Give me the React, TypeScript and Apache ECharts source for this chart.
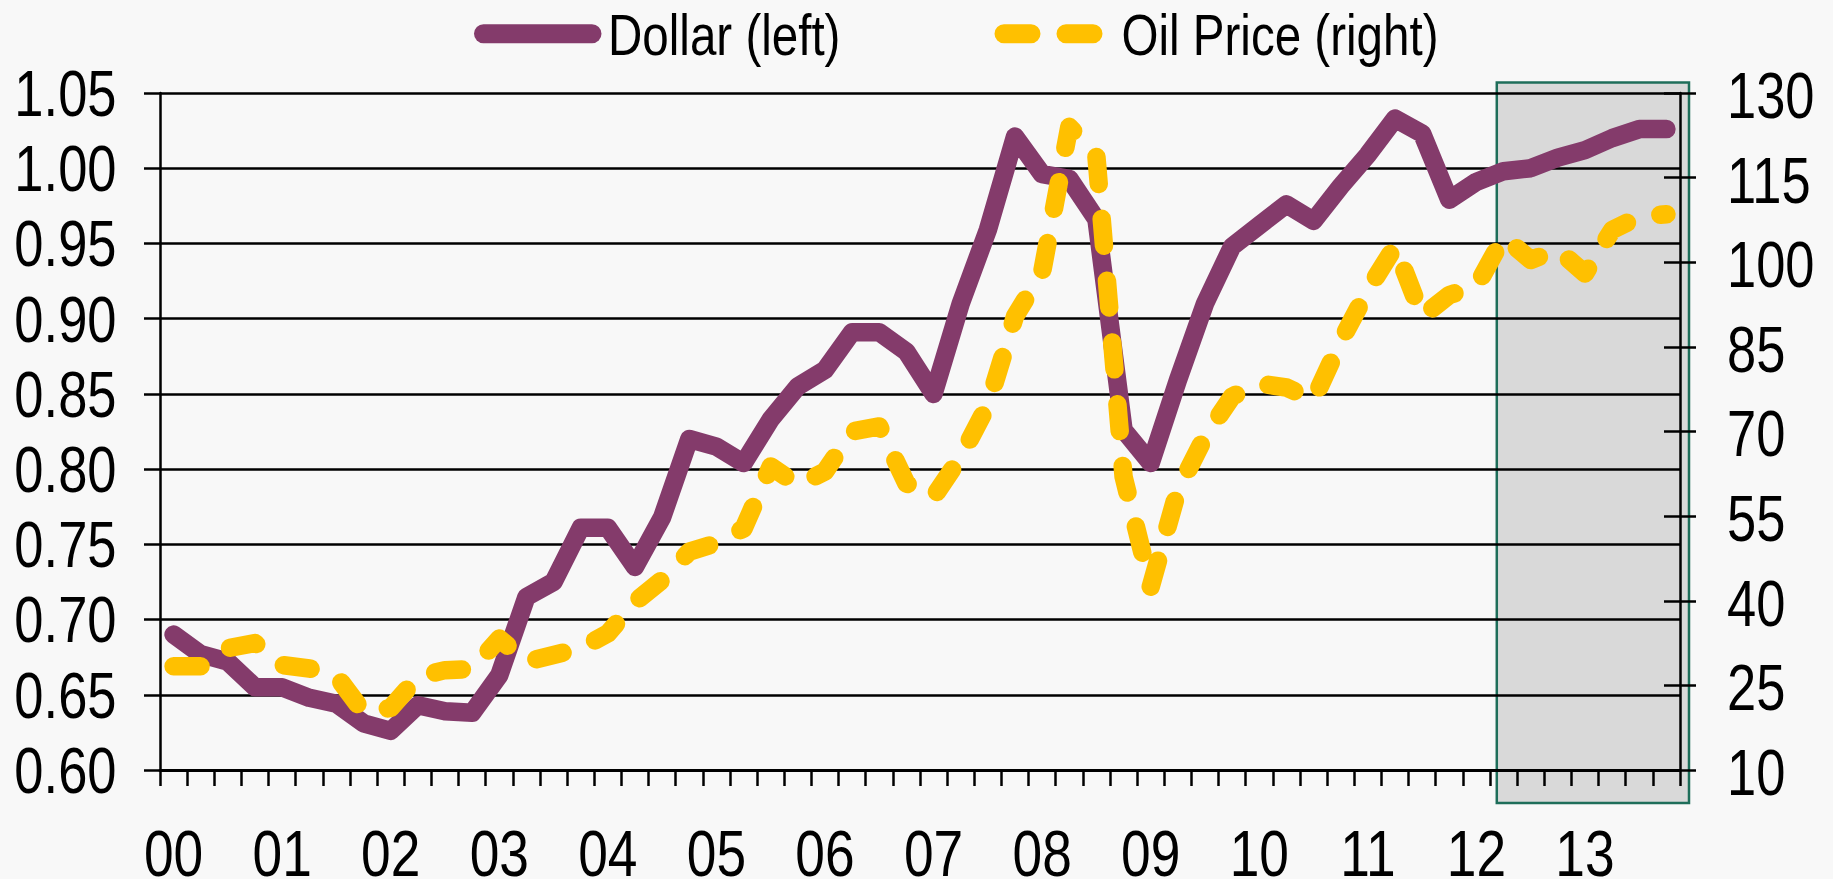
import { useEffect, useRef } from 'react';
import * as echarts from 'echarts';

// ---- data -------------------------------------------------------------
const years = [2000, 2001, 2002, 2003, 2004, 2005, 2006, 2007, 2008, 2009, 2010, 2011, 2012, 2013];
const quarters = ['Q1', 'Q2', 'Q3', 'Q4'];
const categories: string[] = years.flatMap((y) => quarters.map((q) => `${y}${q}`));
const yearLabels = years.map((y) => String(y).slice(2));

// Dollar index (left axis), quarterly 2000Q1 .. 2013Q4
const dollar = [
  0.690, 0.677, 0.672, 0.655, 0.655, 0.648, 0.644, 0.631, 0.626, 0.643,
  0.639, 0.638, 0.663, 0.715, 0.725, 0.761, 0.761, 0.735, 0.768, 0.820,
  0.815, 0.804, 0.833, 0.855, 0.866, 0.891, 0.891, 0.878, 0.850, 0.910,
  0.959, 1.021, 0.996, 0.993, 0.966, 0.826, 0.804, 0.859, 0.910, 0.948,
  0.962, 0.976, 0.965, 0.988, 1.009, 1.033, 1.023, 0.979, 0.991, 0.998,
  1.000, 1.007, 1.012, 1.020, 1.026, 1.026,
];

// Oil price (right axis)
const oil = [
  28.4, 28.4, 31.6, 32.5, 28.6, 28.0, 26.7, 20.2, 21.0, 26.5,
  27.7, 27.9, 33.3, 29.2, 30.4, 31.6, 34.2, 39.8, 43.7, 48.7,
  50.2, 52.8, 63.8, 60.5, 62.9, 70.0, 70.9, 60.8, 58.4, 65.5,
  74.7, 90.4, 98.3, 124.0, 118.7, 62.0, 42.5, 59.6, 69.1, 76.2,
  78.5, 77.8, 75.6, 86.0, 95.1, 102.8, 90.4, 94.2, 95.7, 104.5,
  100.4, 102.2, 98.0, 105.7, 108.1, 108.5,
];

const seriesNames = ['Dollar (left)', 'Oil Price (right)'];
const leftAxis = { min: 0.6, max: 1.05, interval: 0.05 };
const rightAxis = { min: 10, max: 130, interval: 15 };
const leftTicks = [0.6, 0.65, 0.7, 0.75, 0.8, 0.85, 0.9, 0.95, 1.0, 1.05];
const rightTicks = [10, 25, 40, 55, 70, 85, 100, 115, 130];
const shadeFrom = 49; // first shaded quarter (2012Q2)

// ---- styles -----------------------------------------------------------
const FONT = "'Liberation Sans', Arial, Helvetica, sans-serif";
const NARROW = 0.82; // Arial Narrow look: Arial squeezed horizontally
const PURPLE = '#843b6b';
const GOLD = '#ffc000';
const BG = '#f8f8f8';
const DASH = [27, 35];
const LINE_W = 18.5;

function label(text: string, x: number, y: number, align: string, size: number) {
  return {
    type: 'text',
    x,
    y,
    scaleX: NARROW,
    z: 100,
    silent: true,
    style: {
      text,
      x: 0,
      y: 0,
      fill: '#000',
      fontFamily: FONT,
      fontSize: size,
      align,
      verticalAlign: 'middle',
    },
  };
}

export default function App() {
  const ref = useRef<HTMLDivElement>(null);

  useEffect(() => {
    if (!ref.current) return;
    const chart = echarts.init(ref.current, undefined, { renderer: 'svg' });

    const tickStyle = { color: '#000', width: 2.5 };
    const option: any = {
      animation: false,
      backgroundColor: BG,
      textStyle: { fontFamily: FONT },
      grid: { left: 160, right: 153, top: 93, bottom: 109, containLabel: false },
      xAxis: {
        type: 'category',
        data: categories,
        boundaryGap: true,
        axisLine: { show: true, lineStyle: { color: '#000', width: 3 } },
        axisTick: { show: true, interval: 0, length: 16, lineStyle: tickStyle },
        axisLabel: { show: false },
        splitLine: { show: false },
      },
      yAxis: [
        {
          type: 'value',
          position: 'left',
          ...leftAxis,
          axisLine: { show: true, lineStyle: { color: '#000', width: 2.5 } },
          axisTick: { show: true, length: 16, lineStyle: tickStyle },
          axisLabel: { show: false },
          splitLine: { show: true, lineStyle: { color: '#000', width: 2.5 } },
        },
        {
          type: 'value',
          position: 'right',
          ...rightAxis,
          axisLine: { show: true, lineStyle: { color: '#000', width: 2.5 } },
          axisTick: { show: true, length: 16, lineStyle: tickStyle },
          axisLabel: { show: false },
          splitLine: { show: false },
        },
        {
          type: 'value',
          position: 'right',
          ...rightAxis,
          axisLine: { show: false },
          axisTick: { show: true, inside: true, length: 16, lineStyle: tickStyle },
          axisLabel: { show: false },
          splitLine: { show: false },
        },
      ],
      series: [
        {
          name: seriesNames[0],
          type: 'line',
          data: dollar,
          yAxisIndex: 0,
          symbol: 'none',
          showSymbol: false,
          lineStyle: { color: PURPLE, width: LINE_W, cap: 'round', join: 'round' },
          itemStyle: { color: PURPLE },
          z: 3,
        },
        {
          name: seriesNames[1],
          type: 'line',
          data: oil,
          yAxisIndex: 1,
          symbol: 'none',
          showSymbol: false,
          lineStyle: { color: GOLD, width: LINE_W, type: DASH, cap: 'round', join: 'round' },
          itemStyle: { color: GOLD },
          z: 4,
        },
      ],
    };
    chart.setOption(option);

    // positions taken from the axes' own scales
    const px = (i: number) => chart.convertToPixel({ xAxisIndex: 0 }, categories[i]) as number;
    const pyL = (v: number) => chart.convertToPixel({ yAxisIndex: 0 }, v) as number;
    const pyR = (v: number) => chart.convertToPixel({ yAxisIndex: 1 }, v) as number;
    const band = px(1) - px(0);
    const xLeft = px(0) - band / 2;
    const xRight = px(categories.length - 1) + band / 2;
    const yTop = pyL(leftAxis.max);
    const yBot = pyL(leftAxis.min);

    const graphics: any[] = [];

    // shaded forecast box
    const x0 = px(shadeFrom) - band * 0.25;
    const x1 = xRight + 9;
    const y0 = yTop - 10.5;
    const y1 = yBot + 33;
    graphics.push({
      type: 'rect',
      z: -1,
      silent: true,
      shape: { x: x0, y: y0, width: x1 - x0, height: y1 - y0 },
      style: { fill: '#d9d9d9', stroke: '#1e6e5a', lineWidth: 2.5 },
    });

    // left axis labels
    leftTicks.forEach((v) => graphics.push(label(v.toFixed(2), xLeft - 43.5, pyL(v) + 0.5, 'right', 64)));
    // right axis labels
    rightTicks.forEach((v) => graphics.push(label(String(v), xRight + 47, pyR(v) + 2.5, 'left', 64)));
    // category (year) labels
    yearLabels.forEach((t, k) => graphics.push(label(t, px(k * 4), yBot + 84, 'center', 65)));

    // legend
    const legendY = 33.7;
    graphics.push({
      type: 'line',
      z: 100,
      silent: true,
      shape: { x1: 483.5, y1: legendY, x2: 592, y2: legendY },
      style: { stroke: PURPLE, lineWidth: 19, lineCap: 'round' },
    });
    graphics.push(label(seriesNames[0], 608, legendY + 1, 'left', 58));
    graphics.push({
      type: 'line',
      z: 100,
      silent: true,
      shape: { x1: 1004, y1: legendY, x2: 1093, y2: legendY },
      style: { stroke: GOLD, lineWidth: 19, lineCap: 'round', lineDash: DASH },
    });
    graphics.push(label(seriesNames[1], 1121.5, legendY + 1, 'left', 58));

    chart.setOption({ graphic: graphics });

    return () => chart.dispose();
  }, []);

  return (
    <div
      ref={ref}
      style={{ position: 'fixed', left: 0, top: 0, width: 1833, height: 879, background: BG }}
    />
  );
}
